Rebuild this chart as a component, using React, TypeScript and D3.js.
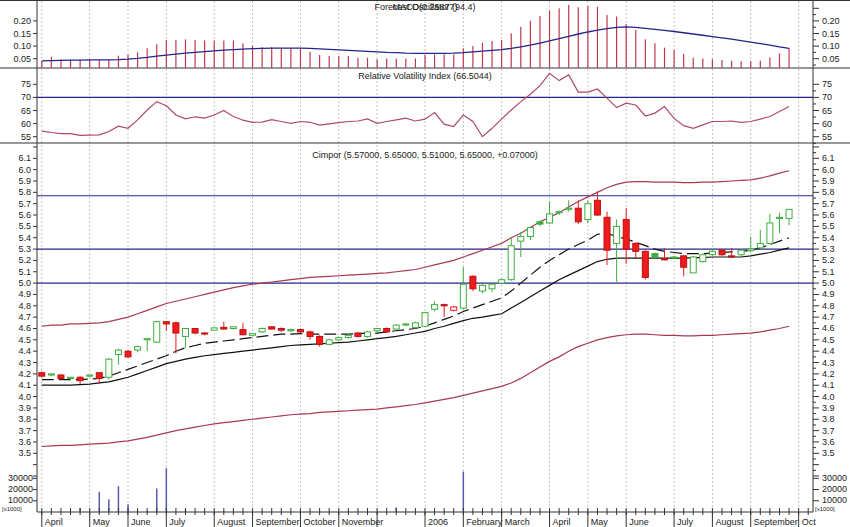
import React from "react";
import * as d3 from "d3";

const W = 850;
const H = 527;

// month gridlines (index of first weekly bar in month) and labels
const monthStart = [0, 5, 9, 13, 18, 22, 27, 31, 35, 40, 44, 48, 53, 57, 61, 66, 70, 74, 79];
const monthLabel = ["April", "May", "June", "July", "August", "September", "October", "November", "", "2006", "February", "March", "April", "May", "June", "July", "August", "September", "Oct"];

// weekly OHLC
const open = [4.21, 4.19, 4.19, 4.16, 4.17, 4.18, 4.21, 4.17, 4.37, 4.40, 4.41, 4.50, 4.48, 4.66, 4.65, 4.53, 4.60, 4.56, 4.585, 4.61, 4.60, 4.59, 4.54, 4.57, 4.615,
  4.60, 4.58, 4.59, 4.57, 4.53, 4.46, 4.50, 4.52, 4.56, 4.53, 4.58, 4.60, 4.595, 4.63, 4.61, 4.62, 4.77, 4.81, 4.76, 4.78, 5.06, 4.93, 4.95, 5.00, 5.03,
  5.37, 5.41, 5.54, 5.53, 5.62, 5.65, 5.66, 5.56, 5.73, 5.58, 5.35, 5.56, 5.35, 5.28, 5.26, 5.215, 5.225, 5.24, 5.09, 5.19, 5.25, 5.29, 5.24, 5.25, 5.285, 5.31, 5.35, 5.57, 5.57];
const high = [4.22, 4.20, 4.20, 4.17, 4.18, 4.19, 4.21, 4.34, 4.42, 4.41, 4.45, 4.51, 4.67, 4.66, 4.66, 4.60, 4.60, 4.57, 4.61, 4.66, 4.62, 4.65, 4.56, 4.61, 4.62,
  4.61, 4.60, 4.60, 4.58, 4.54, 4.51, 4.53, 4.56, 4.57, 4.58, 4.60, 4.61, 4.635, 4.65, 4.66, 4.74, 4.84, 4.82, 4.80, 5.14, 5.07, 4.99, 5.00, 5.04, 5.40,
  5.45, 5.50, 5.55, 5.72, 5.64, 5.73, 5.73, 5.73, 5.81, 5.63, 5.56, 5.66, 5.36, 5.29, 5.27, 5.31, 5.24, 5.25, 5.24, 5.26, 5.30, 5.30, 5.31, 5.30, 5.41, 5.47, 5.61, 5.62, 5.65];
const low = [4.17, 4.18, 4.15, 4.15, 4.11, 4.17, 4.11, 4.15, 4.28, 4.34, 4.39, 4.40, 4.47, 4.58, 4.38, 4.43, 4.55, 4.54, 4.58, 4.59, 4.59, 4.54, 4.53, 4.56, 4.59,
  4.57, 4.57, 4.56, 4.50, 4.44, 4.45, 4.49, 4.51, 4.52, 4.52, 4.56, 4.56, 4.59, 4.62, 4.60, 4.61, 4.75, 4.70, 4.75, 4.77, 4.93, 4.91, 4.92, 4.99, 5.02,
  5.23, 5.38, 5.50, 5.52, 5.60, 5.63, 5.52, 5.53, 5.59, 5.16, 5.01, 5.17, 5.22, 5.03, 5.21, 5.20, 5.21, 5.06, 5.09, 5.18, 5.24, 5.24, 5.22, 5.24, 5.27, 5.30, 5.34, 5.44, 5.51];
const close = [4.18, 4.20, 4.16, 4.17, 4.14, 4.19, 4.16, 4.33, 4.41, 4.35, 4.44, 4.51, 4.66, 4.64, 4.56, 4.60, 4.56, 4.555, 4.605, 4.595, 4.615, 4.545, 4.555, 4.60, 4.595,
  4.585, 4.59, 4.57, 4.53, 4.46, 4.50, 4.52, 4.54, 4.53, 4.57, 4.60, 4.57, 4.63, 4.64, 4.65, 4.74, 4.81, 4.80, 4.79, 4.99, 4.95, 4.98, 4.99, 5.03, 5.33,
  5.41, 5.49, 5.52, 5.61, 5.63, 5.66, 5.54, 5.70, 5.60, 5.29, 5.50, 5.30, 5.28, 5.05, 5.23, 5.205, 5.23, 5.14, 5.23, 5.25, 5.28, 5.25, 5.235, 5.29, 5.30, 5.35, 5.53, 5.58, 5.65];

// price overlays
const upperBand = [4.62, 4.63, 4.63, 4.64, 4.64, 4.645, 4.65, 4.66, 4.68, 4.70, 4.73, 4.76, 4.79, 4.82, 4.84, 4.86, 4.88, 4.90, 4.92, 4.94, 4.96, 4.975, 4.99, 5.00, 5.01,
  5.02, 5.03, 5.04, 5.05, 5.055, 5.06, 5.065, 5.07, 5.075, 5.08, 5.085, 5.09, 5.10, 5.11, 5.12, 5.14, 5.16, 5.18, 5.20, 5.23, 5.26, 5.29, 5.32, 5.35, 5.40,
  5.44, 5.49, 5.54, 5.58, 5.62, 5.67, 5.72, 5.76, 5.80, 5.84, 5.87, 5.89, 5.895, 5.895, 5.89, 5.89, 5.89, 5.885, 5.885, 5.89, 5.89, 5.895, 5.90, 5.905, 5.91, 5.925, 5.945, 5.97, 5.99];
const lowerBand = [3.56, 3.565, 3.57, 3.57, 3.575, 3.58, 3.585, 3.59, 3.60, 3.61, 3.625, 3.64, 3.66, 3.68, 3.70, 3.715, 3.73, 3.745, 3.76, 3.77, 3.78, 3.79, 3.80, 3.81, 3.82,
  3.83, 3.84, 3.845, 3.85, 3.86, 3.865, 3.87, 3.875, 3.88, 3.885, 3.89, 3.90, 3.91, 3.92, 3.93, 3.945, 3.96, 3.975, 3.99, 4.01, 4.03, 4.05, 4.07, 4.09, 4.12,
  4.16, 4.21, 4.26, 4.31, 4.35, 4.40, 4.44, 4.47, 4.50, 4.52, 4.535, 4.545, 4.55, 4.55, 4.545, 4.54, 4.54, 4.535, 4.535, 4.54, 4.54, 4.545, 4.55, 4.555, 4.56, 4.57, 4.585, 4.60, 4.62];
const maShort = [4.15, 4.15, 4.15, 4.15, 4.15, 4.155, 4.16, 4.18, 4.21, 4.24, 4.27, 4.30, 4.33, 4.36, 4.40, 4.43, 4.45, 4.47, 4.48, 4.49, 4.50, 4.51, 4.52, 4.53, 4.54,
  4.55, 4.55, 4.555, 4.55, 4.55, 4.55, 4.55, 4.55, 4.555, 4.56, 4.56, 4.57, 4.58, 4.59, 4.60, 4.62, 4.65, 4.68, 4.71, 4.75, 4.78, 4.81, 4.84, 4.87, 4.93,
  5.00, 5.07, 5.14, 5.20, 5.25, 5.30, 5.34, 5.38, 5.43, 5.44, 5.41, 5.39, 5.36, 5.33, 5.30, 5.28, 5.27, 5.26, 5.26, 5.26, 5.265, 5.27, 5.275, 5.28, 5.29, 5.31, 5.34, 5.37, 5.40];
const maLong = [4.10, 4.10, 4.10, 4.10, 4.105, 4.11, 4.12, 4.13, 4.15, 4.17, 4.20, 4.23, 4.26, 4.29, 4.31, 4.33, 4.345, 4.36, 4.37, 4.38, 4.39, 4.40, 4.41, 4.42, 4.43,
  4.44, 4.45, 4.455, 4.46, 4.465, 4.47, 4.475, 4.48, 4.49, 4.50, 4.51, 4.52, 4.53, 4.545, 4.56, 4.575, 4.60, 4.62, 4.645, 4.67, 4.69, 4.70, 4.715, 4.73, 4.78,
  4.83, 4.88, 4.93, 4.98, 5.03, 5.07, 5.11, 5.15, 5.19, 5.21, 5.22, 5.22, 5.22, 5.22, 5.22, 5.22, 5.22, 5.22, 5.225, 5.225, 5.23, 5.23, 5.23, 5.23, 5.24, 5.255, 5.27, 5.29, 5.31];
const priceLevels = [5.0, 5.3, 5.77];

// top oscillator (histogram + signal)
const oscHist = [0.041, 0.058, 0.048, 0.045, 0.045, 0.045, 0.045, 0.045, 0.062, 0.067, 0.075, 0.091, 0.107, 0.124, 0.124, 0.127, 0.124, 0.122, 0.122, 0.122, 0.122, 0.111, 0.102, 0.095, 0.095,
  0.091, 0.091, 0.091, 0.078, 0.065, 0.061, 0.061, 0.061, 0.054, 0.054, 0.048, 0.051, 0.051, 0.051, 0.051, 0.065, 0.067, 0.067, 0.067, 0.091, 0.100, 0.114, 0.120, 0.124, 0.151,
  0.177, 0.201, 0.219, 0.241, 0.250, 0.263, 0.254, 0.259, 0.256, 0.223, 0.217, 0.188, 0.164, 0.127, 0.111, 0.094, 0.085, 0.069, 0.054, 0.051, 0.048, 0.045, 0.042, 0.040, 0.040, 0.042, 0.055, 0.071, 0.091];
const oscSignal = [0.041, 0.042, 0.043, 0.044, 0.044, 0.045, 0.045, 0.045, 0.046, 0.048, 0.051, 0.055, 0.060, 0.064, 0.068, 0.072, 0.075, 0.078, 0.081, 0.084, 0.086, 0.088, 0.090, 0.091, 0.092,
  0.092, 0.092, 0.092, 0.091, 0.089, 0.087, 0.085, 0.083, 0.081, 0.079, 0.077, 0.075, 0.074, 0.072, 0.071, 0.071, 0.071, 0.071, 0.072, 0.074, 0.077, 0.080, 0.083, 0.086, 0.091,
  0.097, 0.104, 0.112, 0.121, 0.130, 0.139, 0.148, 0.156, 0.163, 0.169, 0.174, 0.176, 0.174, 0.170, 0.166, 0.162, 0.158, 0.153, 0.148, 0.143, 0.138, 0.133, 0.128, 0.122, 0.116, 0.110, 0.104, 0.097, 0.091];

// relative volatility index
const rvi = [57.1, 56.6, 56.2, 56.2, 55.5, 55.6, 55.7, 57.0, 59.0, 58.2, 61.4, 65.2, 68.4, 66.8, 63.3, 61.8, 62.6, 62.1, 63.3, 65.0, 62.7, 61.3, 60.5, 60.6, 61.5,
  60.8, 60.1, 60.8, 60.5, 59.4, 59.9, 60.4, 60.8, 61.0, 61.8, 60.1, 60.8, 61.4, 62.1, 61.0, 61.7, 64.2, 59.8, 58.9, 63.3, 60.8, 55.0, 58.2, 61.8, 65.2,
  68.4, 71.2, 74.5, 79.2, 76.4, 78.6, 72.0, 72.0, 73.2, 69.7, 66.1, 67.8, 67.1, 62.9, 64.0, 66.5, 62.0, 59.2, 58.2, 59.5, 60.8, 60.8, 61.0, 60.5, 60.8, 61.7, 62.7, 64.6, 66.5];

// volume (x1000), weeks with no bar are 0
const volume = [0, 0, 0, 0, 3.3, 0, 18, 11.3, 23, 7, 1, 1, 21, 39, 0, 2, 0, 0, 0, 1, 0, 0, 0, 0, 0,
  0, 0, 0, 0, 0, 0, 0, 0, 0, 0, 0, 0, 4, 0, 0, 0, 0, 0, 0, 36, 0, 0, 0, 0, 0,
  0, 0, 0, 0, 0, 0, 0, 0, 0, 0, 0, 0, 0, 0, 0, 0, 0, 0, 0, 0, 0, 0, 0, 0, 0, 0, 0, 0, 0];

const leftTickF = [0.05, 0.1, 0.15, 0.2];
const leftTickR = [55, 60, 65, 70, 75];
const volTicks = [10000, 20000, 30000];

const FONT = "'Liberation Sans', Arial, sans-serif";
const GREEN = "#3fae3f";
const RED = "#ee1c1c";
const BAND = "#a83a52";
const NAVY = "#24248a";
const GRID = "#c4c4c4";

export default function App() {
  const L = 37, R = 813;
  const xs = d3.scaleLinear().domain([-0.5, 80.5]).range([L, R]);
  const yF = d3.scaleLinear().domain([0, 0.2]).range([71.3, 20.9]);
  const yR = d3.scaleLinear().domain([55, 75]).range([136.7, 84.3]);
  const yP = d3.scaleLinear().domain([3.5, 6.1]).range([453.3, 158.3]);
  const yV = d3.scaleLinear().domain([0, 30000]).range([512, 478.3]);
  const idx = d3.range(close.length);

  const lineOf = (arr: number[], y: d3.ScaleLinear<number, number>) =>
    d3.line<number>().x((_, i) => xs(i)).y((v) => y(v))(arr) || "";

  const fmt2 = d3.format(".2f");
  const fmt1 = d3.format(".1f");
  const priceTicks = d3.range(35, 62).map((v) => v / 10);
  const priceMinor = d3.range(66, 125).map((v) => v / 20);
  const axisPriceTicks = d3.range(33, 63).map((v) => v / 10);

  const textStyle: React.CSSProperties = { fontFamily: FONT, fontSize: 9, fill: "#222" };

  return (
    <svg width={W} height={H} style={{ position: "absolute", left: 0, top: 0, background: "#fff" }}>
      <rect x={0} y={0} width={W} height={H} fill="#fff" />
      {/* month gridlines */}
      {monthStart.map((m, k) => (
        <line key={"g" + k} x1={xs(m)} x2={xs(m)} y1={1} y2={512} stroke={GRID} strokeDasharray="2,2" strokeWidth={1} />
      ))}

      {/* panel borders */}
      <line x1={0} x2={W} y1={0.5} y2={0.5} stroke="#333" />
      <line x1={0} x2={W} y1={68} y2={68} stroke="#333" strokeWidth={1.2} />
      <line x1={0} x2={W} y1={143} y2={143} stroke="#333" strokeWidth={1.2} />
      <line x1={L} x2={L} y1={0} y2={512} stroke="#333" />
      <line x1={R} x2={R} y1={0} y2={512} stroke="#333" />
      <line x1={L} x2={R} y1={512} y2={512} stroke="#333" />

      {/* ===== top oscillator panel ===== */}
      {idx.map((i) => (
        <line key={"h" + i} x1={xs(i)} x2={xs(i)} y1={68} y2={yF(oscHist[i])} stroke="#c0384e" strokeWidth={1.2} />
      ))}
      <path d={lineOf(oscSignal, yF)} fill="none" stroke={NAVY} strokeWidth={1.3} />
      {leftTickF.map((t) => (
        <g key={"lf" + t}>
          <line x1={L - 4} x2={L} y1={yF(t)} y2={yF(t)} stroke="#333" />
          <text x={L - 6} y={yF(t) + 3} textAnchor="end" style={textStyle}>{fmt2(t)}</text>
          <text x={822} y={yF(t) + 3} style={textStyle}>{fmt2(t)}</text>
        </g>
      ))}
      {d3.range(1, 11).map((k) => {
        const v = k * 0.025;
        return <line key={"rf" + k} x1={R} x2={R + (k % 2 === 0 ? 6 : 3)} y1={yF(v)} y2={yF(v)} stroke="#333" />;
      })}
      <text x={425} y={10} textAnchor="middle" style={textStyle}>Forecast Oscillator (94.4)</text>
      <text x={425} y={10} textAnchor="middle" style={textStyle}>MACD(0.25877)</text>

      {/* ===== RVI panel ===== */}
      <line x1={L} x2={R} y1={yR(70)} y2={yR(70)} stroke={NAVY} strokeWidth={1.2} />
      <path d={lineOf(rvi, yR)} fill="none" stroke="#b04a64" strokeWidth={1.2} />
      {leftTickR.map((t) => (
        <g key={"lr" + t}>
          <line x1={L - 4} x2={L} y1={yR(t)} y2={yR(t)} stroke="#333" />
          <text x={L - 6} y={yR(t) + 3} textAnchor="end" style={textStyle}>{t}</text>
          <text x={822} y={yR(t) + 3} style={textStyle}>{t}</text>
        </g>
      ))}
      {d3.range(0, 10).map((k) => {
        const v = 52.5 + k * 2.5;
        return <line key={"rr" + k} x1={R} x2={R + (k % 2 === 1 ? 6 : 3)} y1={yR(v)} y2={yR(v)} stroke="#333" />;
      })}
      <text x={425} y={79} textAnchor="middle" style={textStyle}>Relative Volatility Index (66.5044)</text>

      {/* ===== price panel ===== */}
      {priceLevels.map((p) => (
        <line key={"pl" + p} x1={L} x2={R} y1={yP(p)} y2={yP(p)} stroke={NAVY} strokeWidth={1.2} />
      ))}
      <path d={lineOf(upperBand, yP)} fill="none" stroke={BAND} strokeWidth={1.2} />
      <path d={lineOf(lowerBand, yP)} fill="none" stroke={BAND} strokeWidth={1.2} />
      <path d={lineOf(maLong, yP)} fill="none" stroke="#111" strokeWidth={1.2} />
      <path d={lineOf(maShort, yP)} fill="none" stroke="#111" strokeWidth={1.2} strokeDasharray="12,5" />
      {idx.map((i) => {
        const o = open[i], c = close[i];
        const prev = i > 0 ? close[i - 1] : o;
        const col = c >= prev ? GREEN : RED;
        const x = xs(i);
        const top = yP(Math.max(o, c));
        const bot = yP(Math.min(o, c));
        const filled = c < o;
        return (
          <g key={"c" + i}>
            <line x1={x} x2={x} y1={yP(high[i])} y2={yP(low[i])} stroke={col} strokeWidth={1} />
            <rect x={x - 3} y={top} width={6} height={Math.max(bot - top, 1)}
              fill={filled ? col : "#fff"} stroke={filled ? (col === RED ? "#c01010" : col) : col} strokeWidth={1} />
          </g>
        );
      })}
      {axisPriceTicks.map((t) => (
        <line key={"lp" + t} x1={L - 4} x2={L} y1={yP(t)} y2={yP(t)} stroke="#333" />
      ))}
      {priceTicks.map((t) => (
        <g key={"pt" + t}>
          <text x={L - 6} y={yP(t) + 3} textAnchor="end" style={textStyle}>{fmt1(t)}</text>
          <text x={822} y={yP(t) + 3} style={textStyle}>{fmt1(t)}</text>
        </g>
      ))}
      {priceMinor.map((t, k) => (
        <line key={"pm" + k} x1={R} x2={R + (Math.round(t * 20) % 2 === 0 ? 6 : 3)} y1={yP(t)} y2={yP(t)} stroke="#333" />
      ))}
      <text x={425} y={158} textAnchor="middle" style={textStyle}>Cimpor (5.57000, 5.65000, 5.51000, 5.65000, +0.07000)</text>

      {/* ===== volume ===== */}
      {idx.filter((i) => volume[i] > 0).map((i) => (
        <line key={"v" + i} x1={xs(i)} x2={xs(i)} y1={512} y2={yV(volume[i] * 1000)} stroke="#5a5ab4" strokeWidth={1.5} />
      ))}
      {volTicks.map((t) => (
        <g key={"vt" + t}>
          <line x1={L - 4} x2={L} y1={yV(t)} y2={yV(t)} stroke="#333" />
          <line x1={R} x2={R + 6} y1={yV(t)} y2={yV(t)} stroke="#333" />
          <text x={L - 4} y={yV(t) + 2.5} textAnchor="end" style={textStyle}>{t}</text>
          <text x={822} y={yV(t) + 2.5} style={textStyle}>{t}</text>
        </g>
      ))}
      <text x={2} y={511} style={{ ...textStyle, fontSize: 6 }}>[x1000]</text>
      <text x={815} y={511} style={{ ...textStyle, fontSize: 6 }}>[x1000]</text>

      {/* ===== x axis ===== */}
      {d3.range(0, 81).map((i) => (
        <line key={"xt" + i} x1={xs(i)} x2={xs(i)} y1={508} y2={515} stroke="#333" />
      ))}
      {monthStart.map((m, k) => (
        <g key={"ml" + k}>
          <line x1={xs(m)} x2={xs(m)} y1={512} y2={527} stroke="#333" />
          <text x={xs(m) + 3} y={525} style={textStyle}>{monthLabel[k]}</text>
        </g>
      ))}
    </svg>
  );
}
